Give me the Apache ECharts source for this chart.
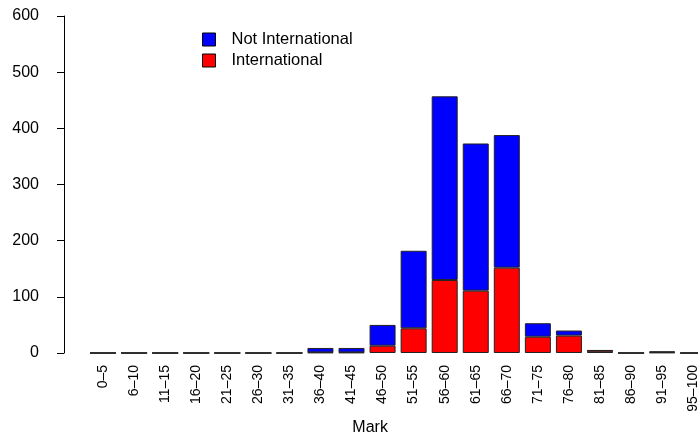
<!DOCTYPE html>
<html><head><meta charset="utf-8">
<script src="https://cdn.jsdelivr.net/npm/echarts@6/dist/echarts.min.js"></script>
<style>html,body{margin:0;padding:0;background:#fff;overflow:hidden;width:698px;height:441px}#c{width:712px;height:441px}</style>
</head><body><div id="c"></div>
<script>
var categories = ["0–5","6–10","11–15","16–20","21–25","26–30","31–35","36–40","41–45","46–50","51–55","56–60","61–65","66–70","71–75","76–80","81–85","86–90","91–95","95–100"];
var international = [0,0,0,0,0,0,0,1,1,13,44,130,111,152,29,31,4,0,1,0];
var notInternational = [0,0,0,0,0,0,0,8,8,37,138,327,262,236,24,9,1,0,2,0];
var yTicks = [0,100,200,300,400,500,600];

var chart = echarts.init(document.getElementById('c'), null, {renderer:'canvas'});
var font = 'Liberation Sans, Arial, sans-serif';
chart.setOption({
  animation:false,
  backgroundColor:'#fff',
  grid:{left:87.5,width:621.2,top:16,bottom:88,containLabel:false},
  legend:{
    orient:'vertical', left:197, top:26, itemWidth:13, itemHeight:13, itemGap:4,
    icon:'rect',
    itemStyle:{borderColor:'#000',borderWidth:1},
    textStyle:{fontFamily:font,fontSize:16.5,color:'#000',lineHeight:13,padding:[0,0,0,11]},
    data:['Not International','International']
  },
  xAxis:{
    type:'category', data:categories,
    name:'Mark', nameLocation:'middle', nameGap:65,
    nameTextStyle:{fontFamily:font,fontSize:16,color:'#000',padding:[0,0,0,-56]},
    axisLine:{show:false}, axisTick:{show:false},
    axisLabel:{rotate:90,margin:12,interval:0,fontFamily:font,fontSize:14,color:'#000'}
  },
  yAxis:{
    type:'value', min:yTicks[0], max:yTicks[yTicks.length-1], interval:100,
    offset:23.5,
    axisLine:{show:true,lineStyle:{color:'#000',width:1}},
    axisTick:{show:true,length:7,lineStyle:{color:'#000'}},
    splitLine:{show:false},
    axisLabel:{margin:25,fontFamily:font,fontSize:16,color:'#000'}
  },
  series:[
    {name:'International',type:'bar',stack:'a',data:international,barWidth:26,
     itemStyle:{color:'#ff0000',borderColor:'#222',borderWidth:1}},
    {name:'Not International',type:'bar',stack:'a',data:notInternational,barWidth:26,
     itemStyle:{color:'#0000ff',borderColor:'#222',borderWidth:1}}
  ]
});
</script></body></html>
